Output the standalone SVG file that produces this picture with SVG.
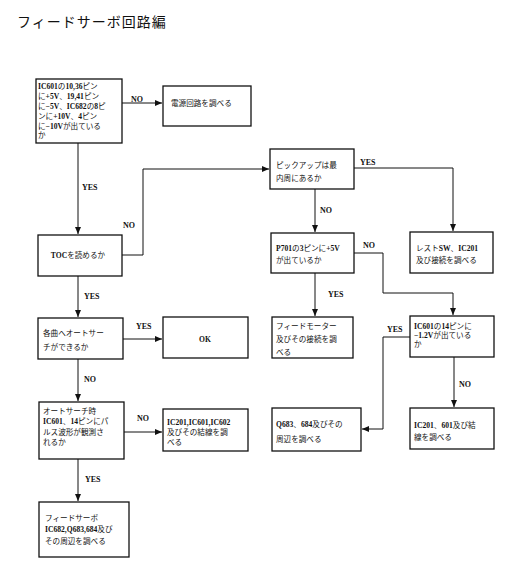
<svg xmlns="http://www.w3.org/2000/svg" width="532" height="571" viewBox="0 0 532 571">
<defs>
<style>
.bx{fill:#fff;stroke:#111;stroke-width:1.3}
.ln{fill:none;stroke:#111;stroke-width:1}
.t{font-family:"Liberation Serif","Noto Sans CJK JP",serif;font-size:7.6px;fill:#111}
.b{font-weight:bold}
.lb{font-family:"Liberation Serif","Noto Sans CJK JP",serif;font-size:8px;font-weight:bold;fill:#111}
.ttl{font-family:"Noto Sans CJK JP",sans-serif;font-size:14px;letter-spacing:1px;fill:#111}
</style>
<marker id="ah" markerWidth="7" markerHeight="6" refX="7" refY="3" orient="auto" markerUnits="userSpaceOnUse"><path d="M0,0 L7,3 L0,6 z" fill="#111"/></marker>
</defs>
<rect width="532" height="571" fill="#fff"/>
<text class="ttl" x="17" y="27">フィードサーボ回路編</text>

<g id="connectors">
<path class="ln" d="M122,103 H162" marker-end="url(#ah)"/>
<text class="lb" x="131" y="102">NO</text>
<path class="ln" d="M78,143 V234" marker-end="url(#ah)"/>
<text class="lb" x="82" y="190">YES</text>
<path class="ln" d="M122,255 H143 V169 H269" marker-end="url(#ah)"/>
<text class="lb" x="123" y="228">NO</text>
<path class="ln" d="M78,276 V317" marker-end="url(#ah)"/>
<text class="lb" x="84" y="299">YES</text>
<path class="ln" d="M123,339 H162" marker-end="url(#ah)"/>
<text class="lb" x="136" y="329">YES</text>
<path class="ln" d="M78,359 V401" marker-end="url(#ah)"/>
<text class="lb" x="84" y="382">NO</text>
<path class="ln" d="M124,432 H162" marker-end="url(#ah)"/>
<text class="lb" x="137" y="421">NO</text>
<path class="ln" d="M78,459 V501" marker-end="url(#ah)"/>
<text class="lb" x="85" y="482">YES</text>
<path class="ln" d="M354,168 H453 V231" marker-end="url(#ah)"/>
<text class="lb" x="360" y="165">YES</text>
<path class="ln" d="M315,189 V232" marker-end="url(#ah)"/>
<text class="lb" x="320" y="213">NO</text>
<path class="ln" d="M354,253 H383 V293 H453 V315" marker-end="url(#ah)"/>
<text class="lb" x="363" y="248">NO</text>
<path class="ln" d="M315,273 V316" marker-end="url(#ah)"/>
<text class="lb" x="328" y="297">YES</text>
<path class="ln" d="M410,337 H383 V429 H362" marker-end="url(#ah)"/>
<text class="lb" x="387" y="332">YES</text>
<path class="ln" d="M454,357 V407" marker-end="url(#ah)"/>
<text class="lb" x="459" y="387">NO</text>
</g>

<g id="n1">
<rect class="bx" x="36" y="79" width="86" height="64"/>
<text class="t" x="38" y="89"><tspan class="b">IC601</tspan>の<tspan class="b">10,36</tspan>ピン</text>
<text class="t" x="38" y="99">に<tspan class="b">+5V</tspan>、<tspan class="b">19,41</tspan>ピン</text>
<text class="t" x="38" y="109">に<tspan class="b">−5V</tspan>、<tspan class="b">IC682</tspan>の<tspan class="b">8</tspan>ピ</text>
<text class="t" x="38" y="119">ンに<tspan class="b">+10V</tspan>、<tspan class="b">4</tspan>ピン</text>
<text class="t" x="38" y="129">に<tspan class="b">−10V</tspan>が出ている</text>
<text class="t" x="38" y="138">か</text>
</g>
<g id="n2">
<rect class="bx" x="163" y="86" width="88" height="40"/>
<text class="t" x="171" y="106">電源回路を調べる</text>
</g>
<g id="n3">
<rect class="bx" x="38" y="235" width="84" height="41"/>
<text class="t" x="78" y="258" text-anchor="middle"><tspan class="b">TOC</tspan>を読めるか</text>
</g>
<g id="n4">
<rect class="bx" x="38" y="318" width="85" height="41"/>
<text class="t" x="43" y="336">各曲へオートサー</text>
<text class="t" x="43" y="350">チができるか</text>
</g>
<g id="n5">
<rect class="bx" x="163" y="317" width="85" height="41"/>
<text class="t b" x="205" y="342" text-anchor="middle">OK</text>
</g>
<g id="n6">
<rect class="bx" x="39" y="402" width="85" height="57"/>
<text class="t" x="43" y="414">オートサーチ時</text>
<text class="t" x="43" y="424"><tspan class="b">IC601</tspan>、<tspan class="b">14</tspan>ピンにパ</text>
<text class="t" x="43" y="435">ルス波形が観測さ</text>
<text class="t" x="43" y="445">れるか</text>
</g>
<g id="n7">
<rect class="bx" x="163" y="409" width="85" height="42"/>
<text class="t" x="167" y="425"><tspan class="b">IC201,IC601,IC602</tspan></text>
<text class="t" x="167" y="435">及びその結線を調</text>
<text class="t" x="167" y="445">べる</text>
</g>
<g id="n8">
<rect class="bx" x="39" y="502" width="90" height="55"/>
<text class="t" x="45" y="521">フィードサーボ</text>
<text class="t" x="45" y="532"><tspan class="b">IC682,Q683,684</tspan>及び</text>
<text class="t" x="45" y="544">その周辺を調べる</text>
</g>
<g id="n9">
<rect class="bx" x="270" y="149" width="84" height="40"/>
<text class="t" x="276" y="168">ピックアップは最</text>
<text class="t" x="276" y="181">内周にあるか</text>
</g>
<g id="n10">
<rect class="bx" x="410" y="232" width="83" height="41"/>
<text class="t" x="416" y="251">レスト<tspan class="b">SW</tspan>、<tspan class="b">IC201</tspan></text>
<text class="t" x="416" y="263">及び接続を調べる</text>
</g>
<g id="n11">
<rect class="bx" x="271" y="233" width="83" height="40"/>
<text class="t" x="276" y="251"><tspan class="b">P701</tspan>の<tspan class="b">3</tspan>ピンに<tspan class="b">+5V</tspan></text>
<text class="t" x="276" y="263">が出ているか</text>
</g>
<g id="n12">
<rect class="bx" x="272" y="317" width="81" height="41"/>
<text class="t" x="276" y="329">フィードモーター</text>
<text class="t" x="276" y="342">及びその接続を調</text>
<text class="t" x="276" y="355">べる</text>
</g>
<g id="n13">
<rect class="bx" x="410" y="316" width="84" height="41"/>
<text class="t" x="414" y="329"><tspan class="b">IC601</tspan>の<tspan class="b">14</tspan>ピンに</text>
<text class="t" x="414" y="338"><tspan class="b">−1.2V</tspan>が出ている</text>
<text class="t" x="414" y="347">か</text>
</g>
<g id="n14">
<rect class="bx" x="272" y="408" width="89" height="43"/>
<text class="t" x="276" y="427"><tspan class="b">Q683</tspan>、<tspan class="b">684</tspan>及びその</text>
<text class="t" x="276" y="442">周辺を調べる</text>
</g>
<g id="n15">
<rect class="bx" x="410" y="408" width="84" height="41"/>
<text class="t" x="414" y="428"><tspan class="b">IC201</tspan>、<tspan class="b">601</tspan>及び結</text>
<text class="t" x="414" y="440">線を調べる</text>
</g>
</svg>
